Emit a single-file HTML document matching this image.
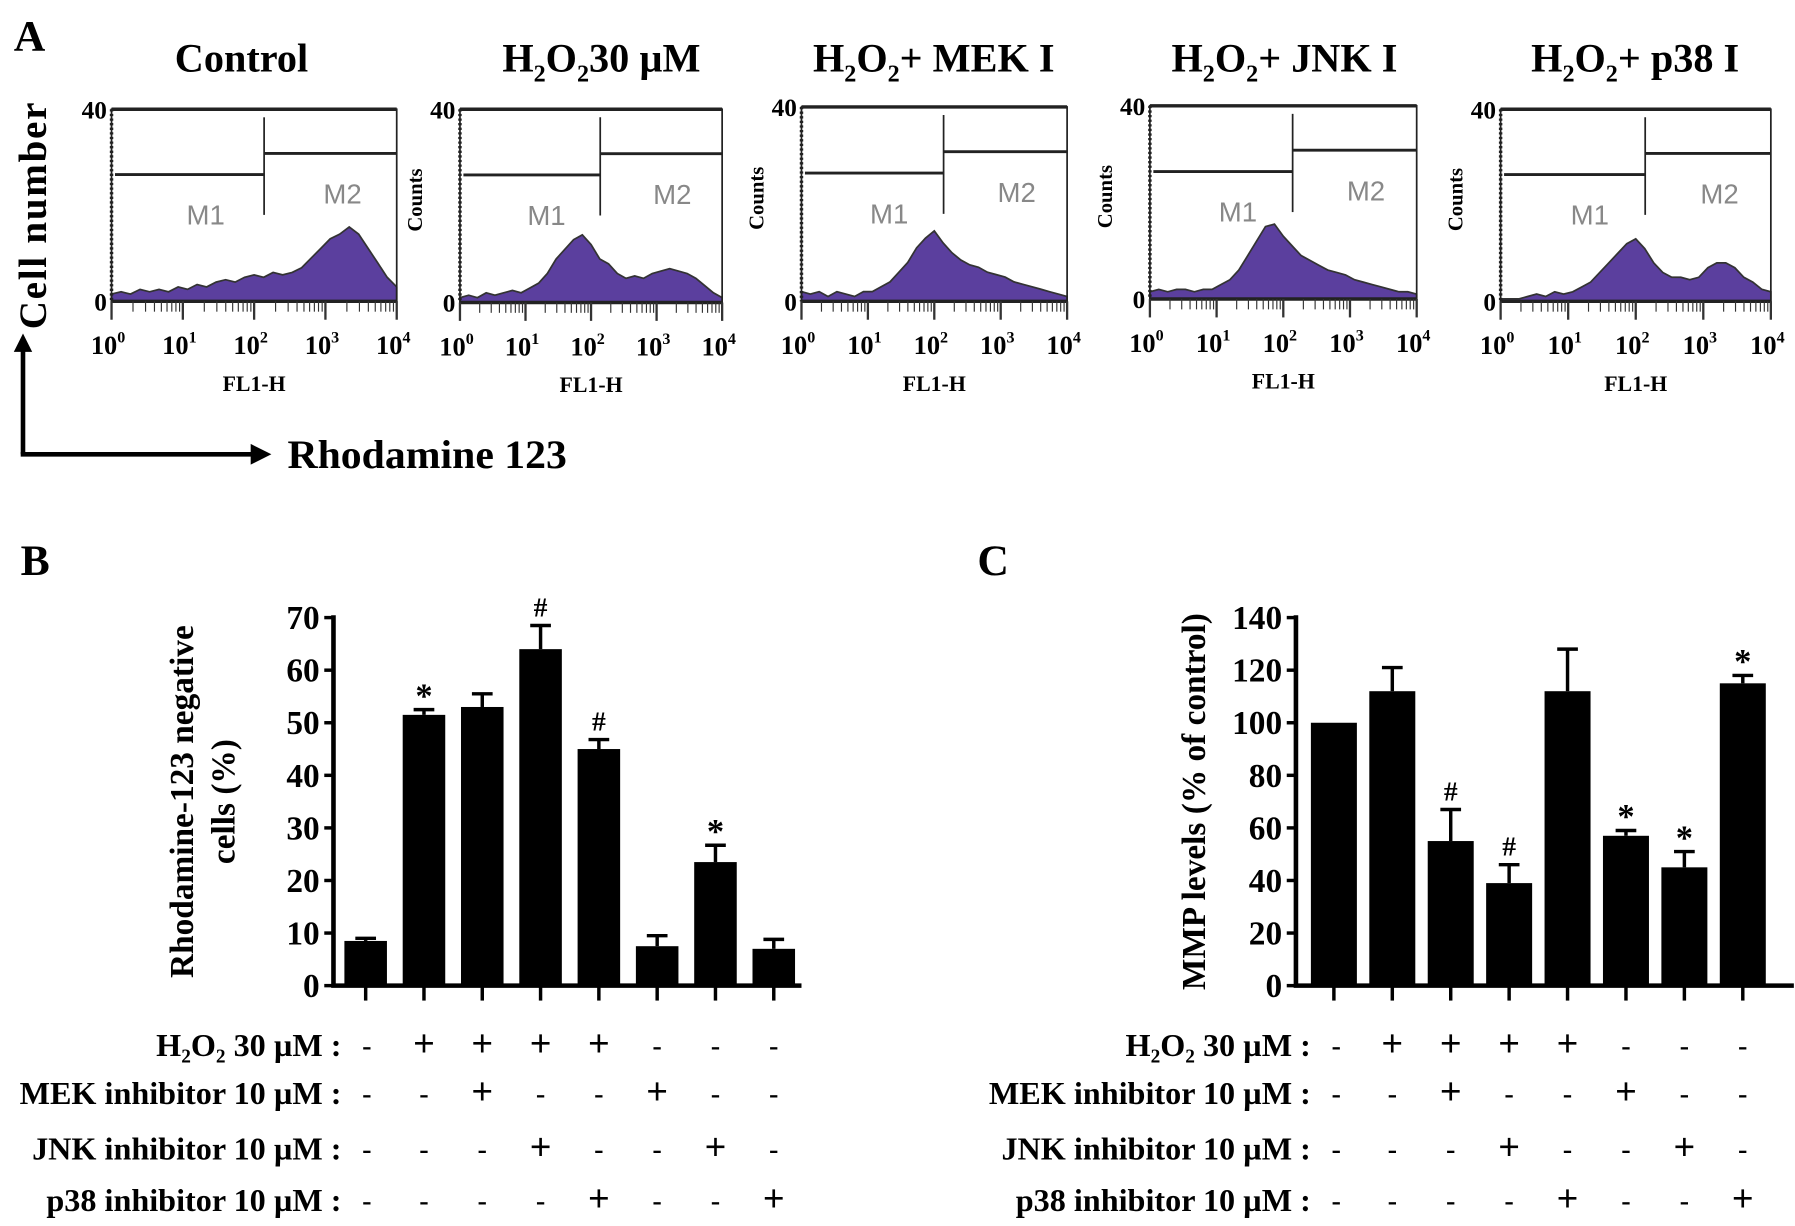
<!DOCTYPE html>
<html><head><meta charset="utf-8"><style>
html,body{margin:0;padding:0;background:#fff;}
svg{display:block;font-family:"Liberation Serif",serif;font-weight:bold;}
</style></head><body>
<svg id="fig" width="1795" height="1226" viewBox="0 0 1561 1066" preserveAspectRatio="none">
<text x="12" y="44" font-size="38">A</text>
<text x="18" y="500" font-size="38">B</text>
<text x="850" y="500" font-size="38">C</text>
<text transform="translate(40,187) rotate(-90)" text-anchor="middle" font-size="34" letter-spacing="1.5">Cell number</text>
<g>
<line x1="20" y1="395" x2="20" y2="302" stroke="#000" stroke-width="4"/>
<polygon points="20,290 12,306 28,306" fill="#000"/>
<line x1="18" y1="395" x2="220" y2="395" stroke="#000" stroke-width="4"/>
<polygon points="236,395 218,386 218,404" fill="#000"/>
</g>
<text x="250" y="407" font-size="35" textLength="243" lengthAdjust="spacingAndGlyphs">Rhodamine 123</text>
<g id="histos"></g>
<g id="chartB"></g>
<g id="chartC"></g>
</svg>
<script>
const NS="http://www.w3.org/2000/svg";
function el(tag,attrs,parent,txt){const e=document.createElementNS(NS,tag);for(const k in attrs)e.setAttribute(k,attrs[k]);if(txt!==undefined)e.textContent=txt;parent.appendChild(e);return e;}

// ---- Panel A data (counts 0-40, sampled across log10 FL1-H 0..4) ----
const histControl=[1.5,2,1.5,2.5,2,2.5,2,3,2.5,3.5,3,4,4.5,4,5,5.5,5,6,5.5,6,7,9,11,13,14,15.5,14,11,8,5,3];
const histH2O2=[1,1.5,1,2,1.5,2,2.5,2,3,4,6,9,11,13,14,12,9,8,6,5,5.5,5,6,6.5,7,6.5,6,5,3.5,2,1];
const histMEK=[2,1.5,2,1,2,1.5,1,2,2,3,4,6,8,11,13,14.5,12,10,8.5,7.5,7,6,5.5,5,4,3.5,3,2.5,2,1.5,1];
const histJNK=[1.5,2,1.5,2,2,1.5,2,2,3,4,6,9,12,15,15.5,13,11,9,8,7,6,5.5,5,4,3.5,3,2.5,2,1.5,1.5,1];
const histP38=[0.5,0.5,0.5,1,1.5,1,2,1.5,2,3,4,6,8,10,12,13,11,8,6,5,5,4.5,5,7,8,8,7,5,4,2.5,2];
const histSeries=[histControl,histH2O2,histMEK,histJNK,histP38];
const histNames=["control","h2o2","h2o2-mek","h2o2-jnk","h2o2-p38"];
const panels=[
 {x0:97,x1:345,top:95,base:262},
 {x0:400,x1:628,top:95,base:263},
 {x0:697,x1:928,top:93,base:262},
 {x0:1000,x1:1232,top:92,base:260},
 {x0:1305,x1:1540,top:95,base:262}];
const titleX=[210,523,812,1117,1422];
const titleRest=["","30 µM","+ MEK I","+ JNK I","+ p38 I"];
const H=document.getElementById('histos');
panels.forEach((p,i)=>{
 const g=el('g',{},H);
 
 
 const t=el('text',{x:titleX[i],y:62,'font-size':35,'text-anchor':'middle'},g);
 
 
 if(i===0){t.textContent='Control';}
 else{el('tspan',{},t,'H');el('tspan',{dy:9,'font-size':21},t,'2');el('tspan',{dy:-9},t,'O');el('tspan',{dy:9,'font-size':21},t,'2');el('tspan',{dy:-9},t,titleRest[i]);}
 const w=p.x1-p.x0,h=p.base-p.top;
 const xs=v=>p.x0+v/4*w, ys=c=>p.base-c/40*h;
 const d=histSeries[i];
 let path='M'+p.x0+','+p.base;
 d.forEach((c,j)=>{path+=' L'+xs(j*4/(d.length-1)).toFixed(1)+','+ys(c).toFixed(1);});
 path+=' L'+p.x1+','+p.base+' Z';
 const a=el('path',{d:path,fill:'#5b3f9e',stroke:'#333','stroke-width':1.5},g);
 
 
 el('rect',{x:p.x0,y:p.top,width:w,height:h,fill:'none',stroke:'#222','stroke-width':1.5},g);
 el('line',{x1:p.x0,y1:p.top,x2:p.x1,y2:p.top,stroke:'#222','stroke-width':3},g);
 el('line',{x1:p.x0,y1:p.top,x2:p.x0,y2:p.base,stroke:'#222','stroke-width':3,'stroke-dasharray':'2,2'},g);
 el('line',{x1:p.x0,y1:p.base,x2:p.x1,y2:p.base,stroke:'#222','stroke-width':3},g);
 const gx=p.x0+w*0.535;
 el('line',{x1:gx,y1:p.top+7,x2:gx,y2:p.top+h*0.55,stroke:'#222','stroke-width':1.5},g);
 el('line',{x1:p.x0+3,y1:p.top+h*0.34,x2:gx,y2:p.top+h*0.34,stroke:'#222','stroke-width':2.5},g);
 el('line',{x1:gx,y1:p.top+h*0.23,x2:p.x1,y2:p.top+h*0.23,stroke:'#222','stroke-width':2.5},g);
 el('text',{x:p.x0+w*0.33,y:p.top+h*0.6,'font-size':24,'font-family':'Liberation Sans Narrow, Liberation Sans, sans-serif','font-weight':'normal',fill:'#888','text-anchor':'middle'},g,'M1');
 el('text',{x:p.x0+w*0.81,y:p.top+h*0.49,'font-size':24,'font-family':'Liberation Sans Narrow, Liberation Sans, sans-serif','font-weight':'normal',fill:'#888','text-anchor':'middle'},g,'M2');
 el('text',{x:p.x0-4,y:p.top+8,'font-size':22,'text-anchor':'end'},g,'40');
 el('text',{x:p.x0-4,y:p.base+8,'font-size':22,'text-anchor':'end'},g,'0');
 if(i>0){el('text',{transform:'translate('+(p.x0-33)+','+(p.top+h*0.47)+') rotate(-90)','font-size':18,'text-anchor':'middle'},g,'Counts');}
 for(let dec=0;dec<4;dec++){for(let k=1;k<10;k++){const x=xs(dec+Math.log10(k));el('line',{x1:x,y1:p.base,x2:x,y2:p.base+(k===1?16:9),stroke:'#333','stroke-width':k===1?2:1},g);}}
 el('line',{x1:p.x1,y1:p.base,x2:p.x1,y2:p.base+16,stroke:'#333','stroke-width':2},g);
 for(let dec=0;dec<=4;dec++){const tt=el('text',{x:xs(dec)-3,y:p.base+46,'font-size':23,'text-anchor':'middle'},g,'10');el('tspan',{dy:-10,'font-size':14},tt,String(dec));}
 el('text',{x:p.x0+w*0.5,y:p.base+78,'font-size':19,'text-anchor':'middle'},g,'FL1-H');
});

// ---- Panel B & C bar data ----
const conditions=["control","h2o2","h2o2-mek","h2o2-jnk","h2o2-p38","mek","jnk","p38"];
const rhoValues=[8.5,51.5,53,64,45,7.5,23.5,7];
const rhoErrors=[0.5,1,2.5,4.5,1.8,2,3.2,1.8];
const rhoMarks=["","*","","#","#","","*",""];
const rhoTicks=[0,10,20,30,40,50,60,70];
const mmpValues=[100,112,55,39,112,57,45,115];
const mmpErrors=[0,9,12,7,16,2,6,3];
const mmpMarks=["","","#","#","","*","*","*"];
const mmpTicks=[0,20,40,60,80,100,120,140];
const rowLabels=["H₂O₂ 30 µM :","MEK inhibitor 10 µM :","JNK inhibitor 10 µM :","p38 inhibitor 10 µM :"];
const rowH2O2=["-","+","+","+","+","-","-","-"];
const rowMEK=["-","-","+","-","-","+","-","-"];
const rowJNK=["-","-","-","+","-","-","+","-"];
const rowP38=["-","-","-","-","+","-","-","+"];
const rows=[rowH2O2,rowMEK,rowJNK,rowP38];
const rowY=[918,960,1008,1053];

function barChart(gid,cfg,values,errors,marks,ticks){
 const g=document.getElementById(gid);
 const ymax=ticks[ticks.length-1];
 const ys=v=>cfg.y0-v/ymax*(cfg.y0-cfg.yTop);
 const xs=i=>cfg.c0+i*cfg.step;
 const ax=el('path',{d:'M'+cfg.ax+','+(cfg.yTop-2)+' V'+cfg.y0+' H'+cfg.axEnd,fill:'none',stroke:'#000','stroke-width':4},g);
 
 
 ticks.forEach(t=>{el('line',{x1:cfg.ax-8,y1:ys(t),x2:cfg.ax,y2:ys(t),stroke:'#000','stroke-width':3},g);
  const lb=el('text',{x:cfg.ax-12,y:ys(t)+10,'font-size':29,'text-anchor':'end'},g,String(t));
  
  });
 values.forEach((v,i)=>{
  const cx=xs(i);
  el('line',{x1:cx,y1:cfg.y0,x2:cx,y2:cfg.y0+13,stroke:'#000','stroke-width':3},g);
  if(errors[i]>0){el('line',{x1:cx,y1:ys(v),x2:cx,y2:ys(v+errors[i]),stroke:'#000','stroke-width':3},g);
   el('line',{x1:cx-9,y1:ys(v+errors[i]),x2:cx+9,y2:ys(v+errors[i]),stroke:'#000','stroke-width':3},g);}
  const r=el('rect',{x:cx-cfg.bw/2,y:ys(v),width:cfg.bw,height:cfg.y0-ys(v),fill:'#000'},g);
  
  
  if(marks[i]){const m=el('text',{x:cx,y:ys(v+errors[i])-(marks[i]==='*'?2:8),'font-size':marks[i]==='*'?30:24,'text-anchor':'middle'},g,marks[i]);
   
   }
 });
 const yt=el('text',{transform:'translate('+cfg.titleX+','+((cfg.y0+cfg.yTop)/2)+') rotate(-90)','font-size':29,'text-anchor':'middle'},g);
 
 
 cfg.title.forEach((s,k)=>{el('tspan',{x:0,dy:k?36:0},yt,s);});
 rows.forEach((row,ri)=>{
  const lb=el('text',{x:cfg.labelX,y:rowY[ri],'font-size':28,'text-anchor':'end'},g,rowLabels[ri]);
  
  
  row.forEach((s,i)=>{el('text',{x:(i===0?cfg.labelX+22:xs(i)),y:rowY[ri],'font-size':s==='+'?32:26,'font-family':'Liberation Sans, sans-serif','font-weight':'normal','text-anchor':'middle'},g,s);});
 });
}
barChart('chartB',{ax:290,axEnd:697,y0:857,yTop:537,c0:318,step:50.7,bw:37,titleX:168,title:["Rhodamine-123 negative","cells (%)"],labelX:297},rhoValues,rhoErrors,rhoMarks,rhoTicks);
barChart('chartC',{ax:1127,axEnd:1560,y0:857,yTop:537,c0:1160,step:50.8,bw:40,titleX:1048,title:["MMP levels (% of control)"],labelX:1140},mmpValues,mmpErrors,mmpMarks,mmpTicks);
</script>
</body></html>
